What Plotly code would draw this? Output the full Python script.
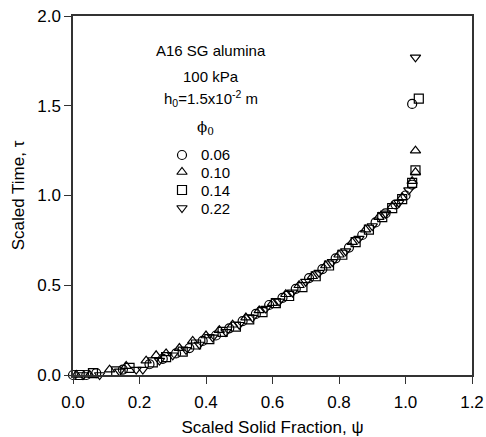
import plotly.graph_objects as go

# phi0 = 0.06 (circles)
psi_006 = [0.00, 0.04, 0.07, 0.15, 0.23, 0.27, 0.31, 0.35, 0.39, 0.43, 0.47, 0.51, 0.55, 0.59,
           0.63, 0.67, 0.71, 0.75, 0.79, 0.83, 0.87, 0.91, 0.94, 0.97, 1.00, 1.02, 1.02]
tau_006 = [0.00, 0.00, 0.01, 0.03, 0.06, 0.09, 0.12, 0.15, 0.19, 0.22, 0.26, 0.30, 0.34, 0.39,
           0.43, 0.48, 0.54, 0.59, 0.65, 0.71, 0.78, 0.85, 0.90, 0.95, 1.00, 1.06, 1.51]

# phi0 = 0.10 (triangles up)
psi_010 = [0.01, 0.05, 0.11, 0.16, 0.22, 0.25, 0.28, 0.32, 0.36, 0.40, 0.44, 0.48, 0.52, 0.56,
           0.60, 0.64, 0.68, 0.72, 0.76, 0.80, 0.84, 0.88, 0.92, 0.96, 0.99, 1.02, 1.03, 1.03]
tau_010 = [0.00, 0.00, 0.03, 0.05, 0.08, 0.11, 0.12, 0.15, 0.19, 0.22, 0.25, 0.28, 0.32, 0.36,
           0.40, 0.45, 0.50, 0.55, 0.61, 0.67, 0.74, 0.81, 0.88, 0.94, 0.99, 1.08, 1.13, 1.25]

# phi0 = 0.14 (squares)
psi_014 = [0.02, 0.06, 0.13, 0.17, 0.24, 0.28, 0.33, 0.37, 0.41, 0.45, 0.49, 0.53, 0.57, 0.61,
           0.65, 0.69, 0.73, 0.77, 0.81, 0.85, 0.89, 0.93, 0.96, 0.99, 1.02, 1.03, 1.04]
tau_014 = [0.00, 0.01, 0.02, 0.04, 0.07, 0.10, 0.13, 0.17, 0.20, 0.24, 0.27, 0.31, 0.35, 0.40,
           0.44, 0.49, 0.55, 0.61, 0.67, 0.74, 0.81, 0.88, 0.93, 0.98, 1.07, 1.14, 1.54]

# phi0 = 0.22 (triangles down)
psi_022 = [0.03, 0.08, 0.14, 0.19, 0.21, 0.26, 0.30, 0.34, 0.38, 0.42, 0.46, 0.50, 0.54, 0.58,
           0.62, 0.66, 0.70, 0.74, 0.78, 0.82, 0.86, 0.90, 0.94, 0.98, 1.01, 1.03]
tau_022 = [0.00, 0.00, 0.02, 0.03, 0.03, 0.08, 0.11, 0.14, 0.17, 0.21, 0.24, 0.28, 0.32, 0.37,
           0.41, 0.46, 0.52, 0.57, 0.63, 0.69, 0.76, 0.83, 0.90, 0.96, 1.03, 1.77]

series = [
    ("0.06", psi_006, tau_006, "circle-open"),
    ("0.10", psi_010, tau_010, "triangle-up-open"),
    ("0.14", psi_014, tau_014, "square-open"),
    ("0.22", psi_022, tau_022, "triangle-down-open"),
]

x_ticks = [0.0, 0.2, 0.4, 0.6, 0.8, 1.0, 1.2]
y_ticks = [0.0, 0.5, 1.0, 1.5, 2.0]

FONT = "Liberation Sans, Arial, sans-serif"
MSIZE = 9

fig = go.Figure()
for name, xs, ys, sym in series:
    fig.add_trace(go.Scatter(
        x=xs, y=ys, mode="markers", name=name, showlegend=False,
        marker=dict(symbol=sym, size=MSIZE, color="black", line=dict(color="black", width=1.2)),
        cliponaxis=False,
    ))

W, H = 486, 437
L, R, T, B = 73, 14, 16, 62
pw, ph = W - L - R, H - T - B

def px(xp):
    return (xp - L) / pw

def py(yp):
    return 1 - (yp - T) / ph

texts = [
    ("A16 SG alumina", 51),
    ("100 kPa", 76),
    ("h<sub>0</sub>=1.5x10<sup>-2</sup> m", 98),
]
annotations = []
for t, yp in texts:
    annotations.append(dict(text=t, x=px(211), y=py(yp), xref="paper", yref="paper",
                            showarrow=False, xanchor="center", yanchor="middle",
                            font=dict(family=FONT, size=15, color="black")))
annotations.append(dict(text="\u03d5<sub>0</sub>", x=px(205), y=py(128), xref="paper", yref="paper",
                        showarrow=False, xanchor="center", yanchor="middle",
                        font=dict(family="DejaVu Serif, serif", size=15, color="black")))
legend_rows = [155, 172, 190, 208]
for (name, xs, ys, sym), yp in zip(series, legend_rows):
    annotations.append(dict(text=name, x=px(199), y=py(yp), xref="paper", yref="paper",
                            showarrow=False, xanchor="left", yanchor="middle",
                            font=dict(family=FONT, size=15, color="black")))

# legend symbols on an invisible overlay axis spanning the plot area
fig.add_trace(go.Scatter(
    x=[px(182)] * 4, y=[py(yp) for yp in legend_rows], mode="markers",
    xaxis="x2", yaxis="y2", showlegend=False, hoverinfo="skip",
    marker=dict(symbol=[s[3] for s in series], size=MSIZE, color="black",
                line=dict(color="black", width=1.2)),
))

fig.update_layout(
    width=W, height=H,
    margin=dict(l=L, r=R, t=T, b=B, autoexpand=False),
    paper_bgcolor="white", plot_bgcolor="white",
    font=dict(family=FONT, size=17, color="black"),
    annotations=annotations,
    xaxis=dict(range=[0, 1.2], tickvals=x_ticks, ticktext=[f"{v:.1f}" for v in x_ticks],
               ticks="outside", ticklen=7, tickwidth=1, tickcolor="#333",
               ticklabelstandoff=4, automargin=False,
               showline=True, linecolor="#333", linewidth=1.5, mirror=True,
               showgrid=False, zeroline=False,
               title=dict(text="Scaled Solid Fraction, \u03c8", font=dict(size=17), standoff=10),
               tickfont=dict(size=17)),
    yaxis=dict(range=[0, 2.0], tickvals=y_ticks, ticktext=[f"{v:.1f}" for v in y_ticks],
               ticks="outside", ticklen=7, tickwidth=1, tickcolor="#333",
               automargin=False,
               showline=True, linecolor="#333", linewidth=1.5, mirror=True,
               showgrid=False, zeroline=False,
               title=dict(text="Scaled Time, \u03c4", font=dict(size=17), standoff=8),
               tickfont=dict(size=17)),
    xaxis2=dict(range=[0, 1], overlaying="x", visible=False),
    yaxis2=dict(range=[0, 1], overlaying="y", visible=False),
)

fig.write_html("out.html")
